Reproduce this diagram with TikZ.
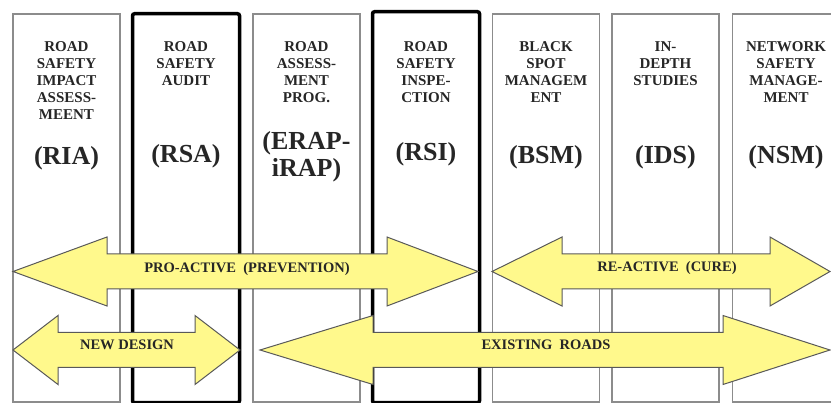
\documentclass[tikz,border=0pt]{standalone}
\usepackage{fontspec}
\setmainfont{Liberation Serif}
\usetikzlibrary{positioning}

% yellow double arrow: left tip, left head base, right head base, right tip, centre y
\newcommand{\yarrow}[5]{%
  \draw[bigarrow] (#1,#5) -- (#2,#5-34.5) -- (#2,#5-17.5) -- (#3,#5-17.5) -- (#3,#5-34.5)
    -- (#4,#5) -- (#3,#5+34.5) -- (#3,#5+17.5) -- (#2,#5+17.5) -- (#2,#5+34.5) -- cycle;
}

\tikzset{
  col/.style={draw=gray!90, line width=1.6pt, minimum width=107pt, minimum height=388pt, anchor=north, inner sep=0pt},
  colbold/.style={col, draw=black, line width=3.5pt, rounded corners=2pt},
  ttl/.style={anchor=north, align=center, inner sep=0pt, font=\bfseries\fontsize{15}{17}\selectfont, text=black!85},
  abbr/.style={align=center, inner sep=0pt, font=\bfseries\fontsize{26}{27}\selectfont, text=black!85},
  bigarrow/.style={draw=black!65, line width=1pt, fill=yellow!45, line join=miter},
  lbl/.style={inner sep=0pt, font=\bfseries\fontsize{14.5}{16}\selectfont, text=black!85}
}

\begin{document}
\begin{tikzpicture}[x=1pt, y=-1pt]
\useasboundingbox (0,0) rectangle (831,403);

% Columns
\node[col] (ria) at (66.5,13) {};
\node[colbold, minimum height=389pt] (rsa) at (186,12) {};
\node[col] (erap) at (306.5,13) {};
\node[colbold, minimum height=391pt] (rsi) at (426,10) {};
\node[col] (bsm) at (546,13) {};
\node[col] (ids) at (665.5,13) {};
\node[col] (nsm) at (786,13) {};

% Column titles
\node[ttl] (ria-t) at (66.5,41) {ROAD\\SAFETY\\IMPACT\\ASSESS-\\MEENT};
\node[ttl] (rsa-t) at (186,41) {ROAD\\SAFETY\\AUDIT};
\node[ttl] (erap-t) at (306.5,41) {ROAD\\ASSESS-\\MENT\\PROG.};
\node[ttl] (rsi-t) at (426,41) {ROAD\\SAFETY\\INSPE-\\CTION};
\node[ttl] (bsm-t) at (546,41) {BLACK\\SPOT\\MANAGEM\\ENT};
\node[ttl] (ids-t) at (665.5,41) {IN-\\DEPTH\\STUDIES};
\node[ttl] (nsm-t) at (786,41) {NETWORK\\SAFETY\\MANAGE-\\MENT};

% Abbreviations
\node[abbr] (ria-a) at (66.5,158) {(RIA)};
\node[abbr] (rsa-a) at (186,156) {(RSA)};
\node[abbr] (erap-a) at (306.5,157) {(ERAP-\\iRAP)};
\node[abbr] (rsi-a) at (426,154) {(RSI)};
\node[abbr] (bsm-a) at (546,157) {(BSM)};
\node[abbr] (ids-a) at (665.5,157) {(IDS)};
\node[abbr] (nsm-a) at (786,157) {(NSM)};

% Arrows
\yarrow{13}{107}{387}{478}{271.5}
\node[lbl] (pro) at (247,269) {PRO-ACTIVE\ \ (PREVENTION)};

\yarrow{492}{562}{770}{830}{271.5}
\node[lbl] (re) at (667,268) {RE-ACTIVE\ \ (CURE)};

\yarrow{13}{58}{195}{240}{350}
\node[lbl] (newd) at (127,345) {NEW DESIGN};

\yarrow{260}{373}{723}{830}{350}
\node[lbl] (exist) at (546,345) {EXISTING\ \ ROADS};

\end{tikzpicture}
\end{document}
